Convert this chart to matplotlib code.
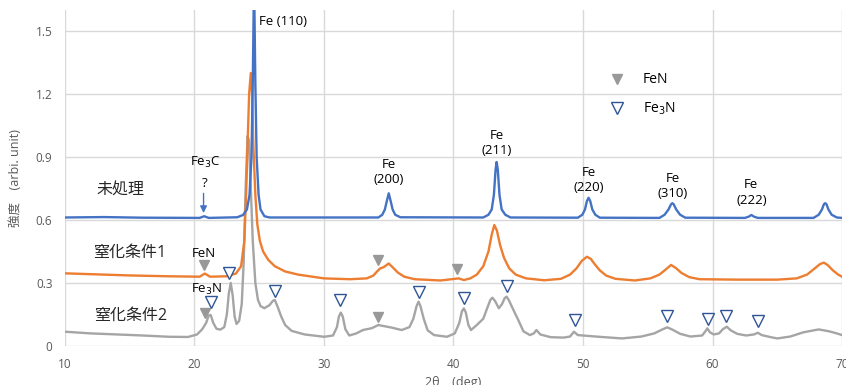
import numpy as np
import matplotlib
matplotlib.use("Agg")
import matplotlib.pyplot as plt

plt.rcParams['font.family'] = ['Open Sans', 'Noto Sans CJK JP', 'DejaVu Sans']

# ── データ（図から読み取った値: (2θ, 強度)） ────────────────────────────────
blue_pts = [
    (10, 0.612), (13, 0.614), (16, 0.611), (20.4, 0.61), (20.75, 0.618), (21.1, 0.61),
    (23.3, 0.613), (23.75, 0.624), (24.05, 0.65), (24.25, 0.72), (24.4, 0.9), (24.5, 1.25),
    (24.6, 1.75), (24.7, 1.25), (24.8, 0.9), (24.95, 0.72), (25.1, 0.65), (25.4, 0.618),
    (25.8, 0.612),
    (34.2, 0.612), (34.5, 0.625), (34.7, 0.65), (34.85, 0.69), (35.0, 0.727), (35.15, 0.69),
    (35.3, 0.65), (35.5, 0.625), (35.9, 0.613),
    (42.3, 0.612), (42.7, 0.625), (42.95, 0.65), (43.12, 0.72), (43.25, 0.84), (43.33, 0.876),
    (43.42, 0.84), (43.55, 0.72), (43.72, 0.65), (44.0, 0.625), (44.4, 0.612),
    (49.6, 0.611), (49.95, 0.625), (50.15, 0.65), (50.3, 0.69), (50.43, 0.706), (50.56, 0.69),
    (50.72, 0.65), (50.95, 0.625), (51.3, 0.611),
    (55.9, 0.61), (56.3, 0.625), (56.6, 0.65), (56.8, 0.675), (56.9, 0.68), (57.0, 0.675),
    (57.2, 0.65), (57.5, 0.625), (57.9, 0.611),
    (62.5, 0.61), (62.8, 0.616), (63.0, 0.624), (63.2, 0.616), (63.5, 0.61),
    (67.8, 0.61), (68.2, 0.625), (68.45, 0.65), (68.6, 0.675), (68.7, 0.68), (68.8, 0.675),
    (68.95, 0.65), (69.2, 0.625), (69.6, 0.612), (70, 0.61),
]

orange_pts = [
    (10, 0.346), (12, 0.342), (15, 0.336), (18, 0.332), (20.4, 0.33), (20.8, 0.345), (21.2, 0.33),
    (22.5, 0.332), (23.2, 0.345), (23.6, 0.38), (23.85, 0.5), (24.0, 0.75), (24.12, 1.0),
    (24.22, 1.2), (24.35, 1.30), (24.45, 1.2), (24.55, 0.95), (24.7, 0.72), (24.85, 0.58),
    (25.05, 0.5), (25.3, 0.45), (25.7, 0.41), (26.2, 0.38), (27, 0.355), (28, 0.34), (30, 0.322),
    (32, 0.318), (33.3, 0.322), (33.8, 0.335), (34.1, 0.355), (34.35, 0.37), (34.6, 0.375),
    (35.0, 0.393), (35.3, 0.375), (35.7, 0.35), (36.2, 0.33), (37, 0.318), (39, 0.312),
    (40.4, 0.322), (40.8, 0.314), (41.3, 0.322), (41.8, 0.34), (42.3, 0.38), (42.7, 0.45),
    (42.95, 0.53), (43.15, 0.576), (43.35, 0.55), (43.6, 0.48), (43.9, 0.42), (44.3, 0.37),
    (44.8, 0.34), (45.6, 0.322), (47, 0.313), (48.3, 0.32), (49.0, 0.34), (49.5, 0.37),
    (49.9, 0.405), (50.3, 0.425), (50.6, 0.415), (50.9, 0.39), (51.3, 0.36), (51.8, 0.335),
    (52.5, 0.32), (54, 0.312), (55.2, 0.322), (55.9, 0.34), (56.4, 0.365), (56.8, 0.386),
    (57.2, 0.37), (57.6, 0.348), (58.2, 0.328), (59, 0.318), (62, 0.316), (65, 0.316),
    (66.5, 0.322), (67.3, 0.34), (67.9, 0.37), (68.3, 0.39), (68.6, 0.397), (68.9, 0.385),
    (69.3, 0.36), (69.7, 0.34), (70, 0.33),
]

gray_pts = [
    (10, 0.068), (12, 0.06), (14, 0.055), (16, 0.05), (18, 0.044), (19.5, 0.043), (20.2, 0.055),
    (20.6, 0.08), (20.9, 0.11), (21.1, 0.145), (21.25, 0.148), (21.45, 0.11), (21.7, 0.082),
    (22.0, 0.078), (22.3, 0.09), (22.5, 0.15), (22.65, 0.25), (22.8, 0.30), (22.95, 0.24),
    (23.1, 0.14), (23.25, 0.105), (23.45, 0.12), (23.65, 0.2), (23.8, 0.4), (23.95, 0.75),
    (24.1, 1.0), (24.2, 0.98), (24.35, 0.75), (24.5, 0.5), (24.7, 0.3), (24.9, 0.22),
    (25.1, 0.19), (25.4, 0.18), (25.8, 0.195), (26.05, 0.215), (26.2, 0.219), (26.4, 0.19),
    (26.7, 0.14), (27.0, 0.1), (27.5, 0.072), (28.5, 0.055), (30, 0.044), (30.7, 0.05),
    (31.0, 0.09), (31.15, 0.14), (31.3, 0.159), (31.45, 0.14), (31.65, 0.08), (31.95, 0.05),
    (32.5, 0.06), (33, 0.076), (33.7, 0.085), (34.2, 0.10), (34.6, 0.095), (35.2, 0.088),
    (36, 0.076), (36.6, 0.09), (36.9, 0.13), (37.15, 0.19), (37.3, 0.211), (37.45, 0.19),
    (37.7, 0.13), (38.0, 0.075), (38.5, 0.052), (39.5, 0.044), (40.1, 0.06), (40.45, 0.11),
    (40.65, 0.165), (40.8, 0.179), (40.95, 0.16), (41.15, 0.1), (41.35, 0.076), (41.8, 0.1),
    (42.3, 0.13), (42.6, 0.18), (42.85, 0.22), (43.0, 0.23), (43.2, 0.215), (43.5, 0.18),
    (43.75, 0.2), (43.95, 0.228), (44.1, 0.235), (44.3, 0.215), (44.6, 0.175), (45.0, 0.124),
    (45.4, 0.07), (45.9, 0.052), (46.2, 0.06), (46.4, 0.076), (46.7, 0.055), (47.5, 0.042),
    (48.5, 0.04), (49.0, 0.045), (49.3, 0.068), (49.6, 0.052), (51, 0.045), (53, 0.036),
    (54.5, 0.045), (55.5, 0.06), (56.1, 0.078), (56.5, 0.089), (56.9, 0.078), (57.5, 0.058),
    (58.3, 0.045), (59.2, 0.05), (59.45, 0.07), (59.6, 0.084), (59.8, 0.065), (60.1, 0.055),
    (60.5, 0.06), (60.8, 0.08), (61.1, 0.092), (61.4, 0.075), (61.9, 0.058), (62.6, 0.05),
    (63.2, 0.055), (63.5, 0.063), (63.8, 0.052), (64.5, 0.042), (65, 0.036), (66, 0.045),
    (67, 0.065), (68.2, 0.079), (69, 0.07), (69.6, 0.06), (70, 0.052),
]

# マーカー位置
fen_x = [20.75, 20.8, 34.2, 34.2, 40.3]
fen_y = [0.384, 0.158, 0.41, 0.138, 0.367]
fe3n_x = [22.7, 21.25, 26.2, 31.2, 37.3, 40.8, 44.1, 49.35, 56.45, 59.65, 61.05, 63.5]
fe3n_y = [0.35, 0.21, 0.262, 0.22, 0.257, 0.23, 0.285, 0.124, 0.142, 0.13, 0.143, 0.118]

# Fe ピークのラベル
fe_labels = ["Fe\n(200)", "Fe\n(211)", "Fe\n(220)", "Fe\n(310)", "Fe\n(222)"]
fe_label_x = [35.0, 43.35, 50.45, 56.95, 63.0]
fe_label_y = [0.829, 0.967, 0.79, 0.762, 0.731]

series_names = ["未処理", "窒化条件1", "窒化条件2"]
series_label_x = [14.3, 15.0, 15.1]
series_label_y = [0.742, 0.443, 0.142]

BLUE = "#4472C4"
ORANGE = "#ED7D31"
GRAY = "#A5A5A5"
TXT = "#595959"

fig = plt.figure(figsize=(8.46, 3.85), dpi=100)
ax = fig.add_axes([0.0768, 0.1013, 0.9185, 0.8727])

for pts, col, z in [(gray_pts, GRAY, 2), (orange_pts, ORANGE, 3), (blue_pts, BLUE, 4)]:
    arr = np.array(pts)
    ax.plot(arr[:, 0], arr[:, 1], color=col, linewidth=1.7, zorder=z,
            solid_joinstyle="round")

ax.plot(fen_x, fen_y, linestyle="none", marker="v", markersize=6.5,
        color="#999999", label="FeN", zorder=5)
ax.plot(fe3n_x, fe3n_y, linestyle="none", marker="v", markersize=8.5,
        markerfacecolor="white", markeredgecolor="#2F5597", markeredgewidth=1.0,
        label="Fe$_3$N", zorder=5)

ax.set_xlim(10, 70)
ax.set_ylim(0, 1.6)
ax.set_xticks(np.arange(10, 71, 10))
ax.set_yticks([0, 0.3, 0.6, 0.9, 1.2, 1.5])
ax.set_yticklabels(["0", "0.3", "0.6", "0.9", "1.2", "1.5"])
ax.tick_params(length=0, labelsize=8.5, labelcolor=TXT, pad=9)
ax.grid(True, color="#D9D9D9", linewidth=1.0)
ax.set_axisbelow(True)
for s in ax.spines.values():
    s.set_visible(False)

ax.set_xlabel("2θ　(deg)", fontsize=9, color=TXT, labelpad=3)
ax.set_ylabel("強度　(arbi. unit)", fontsize=9, color=TXT, labelpad=10)

# ラベル
ax.text(24.95, 1.543, "Fe (110)", fontsize=9.5, ha="left", va="center")
for lbl, lx, ly in zip(fe_labels, fe_label_x, fe_label_y):
    ax.text(lx, ly, lbl, fontsize=9.5, ha="center", va="center", linespacing=1.25)

for name, lx, ly in zip(series_names, series_label_x, series_label_y):
    ax.text(lx, ly, name, fontsize=11.5, ha="center", va="center", color="#262626")

ax.text(20.8, 0.876, "Fe$_3$C", fontsize=9.5, ha="center", va="center")
ax.text(20.8, 0.776, "?", fontsize=9.5, ha="center", va="center")
ax.annotate("", xy=(20.7, 0.62), xytext=(20.7, 0.74),
            arrowprops=dict(arrowstyle="-|>", color=BLUE, lw=1.0, mutation_scale=10))
ax.text(20.75, 0.44, "FeN", fontsize=9.5, ha="center", va="center")
ax.text(20.95, 0.271, "Fe$_3$N", fontsize=9.5, ha="center", va="center")

ax.legend(loc="upper left", bbox_to_anchor=(0.683, 0.835), frameon=False,
          fontsize=10, handletextpad=0.9, labelspacing=0.95, borderpad=0)

fig.savefig("out.png", dpi=100)
